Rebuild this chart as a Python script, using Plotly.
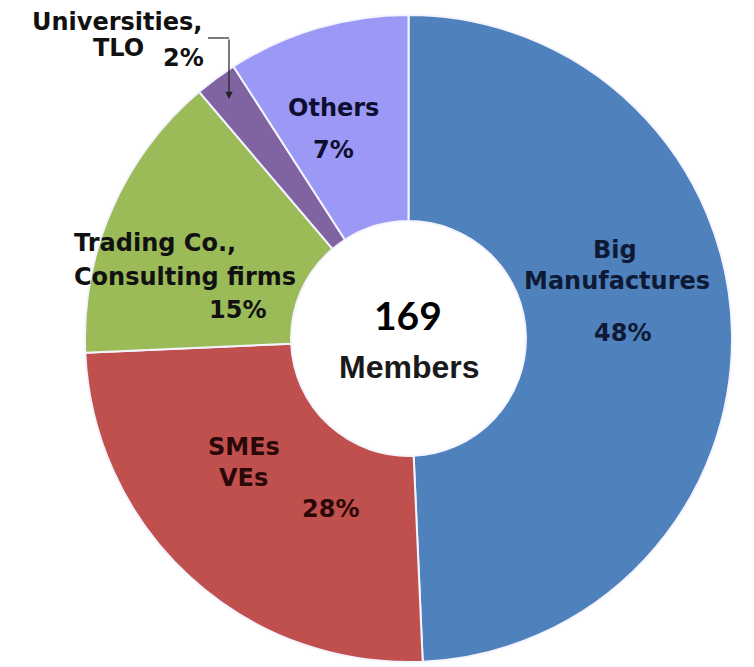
import plotly.graph_objects as go

# ---- data ----
categories = ["Big Manufactures", "SMEs VEs", "Trading Co., Consulting firms", "Universities, TLO", "Others"]
# slice sizes as drawn in the picture (measured angles, % of circle)
slice_sizes = [49.3, 25.0, 14.5, 2.1, 9.1]
# percentages printed on the chart
printed_pct = [48, 28, 15, 2, 7]
colors = ["#4F81BD", "#C0504D", "#9BBB59", "#8064A2", "#9B99F5"]
total_members = 169
center_word = "Members"

# label lines for each slice (text only)
label_lines = [
    ["Big", "Manufactures"],
    ["SMEs", "VEs"],
    ["Trading Co.,", "Consulting firms"],
    ["Universities,", "TLO"],
    ["Others"],
]

W, H = 754, 667


def px(x):
    return x / W


def py(y):
    return 1 - y / H


fig = go.Figure(
    go.Pie(
        labels=categories,
        values=slice_sizes,
        sort=False,
        direction="clockwise",
        rotation=0,
        hole=0.363,
        marker=dict(colors=colors, line=dict(color="#F4F4FF", width=2)),
        textinfo="none",
        hoverinfo="label",
        showlegend=False,
        domain=dict(x=[85 / W, 732 / W], y=[4 / H, 653 / H]),
    )
)

# layout positions of annotation lines (pixels), separate from data
pos_lines = [
    [(615, 250), (617, 281)],
    [(244, 447), (243, 478)],
    [(155, 243), (185, 277)],
    [(117, 22), (118, 48)],
    [(333, 108)],
]
pos_pct = [(622, 333), (330, 509), (237, 310), (183, 58), (333, 150)]
txt_colors = ["#0E1A35", "#2A0808", "#111111", "#111111", "#0E0E30"]

annotations = []
for i, cat in enumerate(categories):
    for line, (x, y) in zip(label_lines[i], pos_lines[i]):
        annotations.append(dict(
            x=px(x), y=py(y), xref="paper", yref="paper", text=line, showarrow=False,
            xanchor="center", yanchor="middle",
            font=dict(family="DejaVu Sans", size=24, color=txt_colors[i], weight="bold"),
        ))
    x, y = pos_pct[i]
    annotations.append(dict(
        x=px(x), y=py(y), xref="paper", yref="paper", text=f"{printed_pct[i]}%", showarrow=False,
        xanchor="center", yanchor="middle",
        font=dict(family="DejaVu Sans", size=24, color=txt_colors[i], weight="bold"),
    ))

# center text
annotations.append(dict(
    x=px(408), y=py(315), xref="paper", yref="paper", text=str(total_members), showarrow=False,
    xanchor="center", yanchor="middle",
    font=dict(family="Lato", size=39, color="#000000", weight="bold"),
))
annotations.append(dict(
    x=px(409), y=py(367), xref="paper", yref="paper", text=center_word, showarrow=False,
    xanchor="center", yanchor="middle",
    font=dict(family="Liberation Sans", size=32, color="#1a1a1a", weight="bold"),
))

# leader arrow for the small slice
annotations.append(dict(
    x=px(229), y=py(99), xref="paper", yref="paper", text="", showarrow=True,
    ax=0, ay=-61, arrowhead=2, arrowsize=1.2, arrowwidth=1.2, arrowcolor="#222222",
))

fig.update_layout(
    width=W, height=H,
    margin=dict(l=0, r=0, t=0, b=0),
    paper_bgcolor="white",
    plot_bgcolor="white",
    annotations=annotations,
    shapes=[dict(
        type="line", xref="paper", yref="paper",
        x0=px(208), y0=py(38), x1=px(229), y1=py(38),
        line=dict(color="#222222", width=1.2),
    )],
)

fig.write_html("out.html")
